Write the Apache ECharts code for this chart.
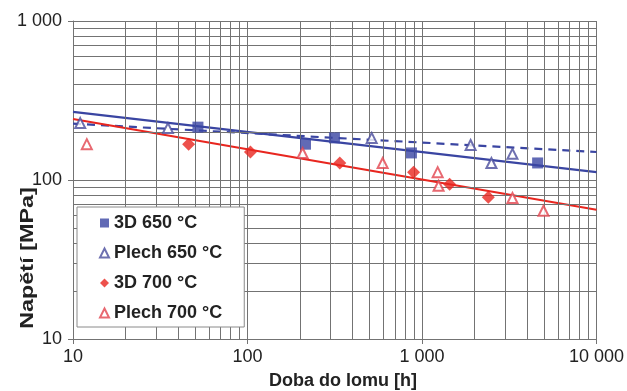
<!DOCTYPE html>
<html>
<head>
<meta charset="utf-8">
<script src="https://cdn.jsdelivr.net/npm/echarts@6/dist/echarts.min.js"></script>
<style>
html,body{margin:0;padding:0;background:#fff;}
#chart{width:627px;height:391px;}
</style>
</head>
<body>
<div id="chart"></div>
<script>
// Data (time to rupture [h], stress [MPa])
const hours3D650 = [52, 215, 315, 870, 4600];
const stress3D650 = [215, 168, 184, 148, 128];

const hoursPlech650 = [11, 35, 515, 1900, 2500, 3300];
const stressPlech650 = [228, 212, 184, 166, 128, 146];

const hours3D700 = [46, 104, 338, 895, 1440, 2400];
const stress3D700 = [168, 150, 128, 112, 94, 78];

const hoursPlech700 = [12, 207, 595, 1230, 1245, 3300, 4970];
const stressPlech700 = [168, 148, 128, 112, 92, 77, 64];

// Trend lines (endpoints at x = 10 and x = 10 000)
const trendX = [10, 10000];
const trend3D650 = [268, 112];
const trendPlech650 = [226, 150];
const trend700 = [242, 65];

// Axis ticks
const xMinorGrid = [20,30,40,50,60,70,80,90,200,300,400,500,600,700,800,900,2000,3000,4000,5000,6000,7000,8000,9000];
const yMinorGrid = [20,30,40,50,60,70,80,90,200,300,400,500,600,700,800,900];

const FONT = "'Liberation Sans', Arial, sans-serif";
const BLUE = '#3a45a2';
const BLUE_TRI = '#4a4c9c';
const RED = '#e8261f';
const RED_TRI = '#e2434d';
const GRID = '#737373';

function zip(xs, ys){ return xs.map((x,i)=>[x, ys[i]]); }
function fmt(v){ return String(v).replace(/\B(?=(\d{3})+(?!\d))/g, ' '); }

const chart = echarts.init(document.getElementById('chart'), null, {renderer:'canvas'});
chart.setOption({
  animation: false,
  backgroundColor: '#fff',
  grid: {left: 73, top: 21, width: 524, height: 318, containLabel: false},
  xAxis: {
    type: 'log', logBase: 10, min: 10, max: 10000,
    axisLine: {show: true, lineStyle: {color: GRID, width: 1}},
    axisTick: {show: true, inside: false, length: 5, lineStyle: {color: GRID}},
    axisLabel: {margin: 9, color: '#222', fontSize: 18, fontFamily: FONT, formatter: fmt},
    splitLine: {show: true, lineStyle: {color: GRID, width: 1}},
    minorTick: {show: false}, minorSplitLine: {show: false}
  },
  yAxis: {
    type: 'log', logBase: 10, min: 10, max: 1000,
    axisLine: {show: true, lineStyle: {color: GRID, width: 1}},
    axisTick: {show: true, inside: false, length: 5, lineStyle: {color: GRID}},
    axisLabel: {margin: 11, color: '#222', fontSize: 18, fontFamily: FONT, formatter: fmt},
    splitLine: {show: true, lineStyle: {color: GRID, width: 1}},
    minorTick: {show: false}, minorSplitLine: {show: false}
  },
  legend: {
    orient: 'vertical', left: 77, top: 207, z: 20, zlevel: 0,
    data: ['3D 650 °C', 'Plech 650 °C', '3D 700 °C', 'Plech 700 °C'],
    itemWidth: 9, itemHeight: 9, itemGap: 10,
    padding: [6, 22, 4, 22],
    backgroundColor: '#ffffff', borderColor: '#8a8a8a', borderWidth: 1,
    textStyle: {fontSize: 18, fontWeight: 'bold', fontFamily: FONT, color: '#222', lineHeight: 20}
  },
  graphic: [
    {type: 'text', x: 343, y: 381, z: 100,
     style: {text: 'Doba do lomu [h]', font: 'bold 18px ' + FONT, fill: '#222', align: 'center', verticalAlign: 'middle'}},
    {type: 'text', x: 28, y: 258, rotation: Math.PI / 2, scaleX: 1.3, z: 100,
     style: {text: 'Napětí [MPa]', font: 'bold 18px ' + FONT, fill: '#222', align: 'center', verticalAlign: 'middle'}}
  ],
  series: [
    {
      name: 'grid', type: 'line', data: [[10, 10]], showSymbol: false, silent: true, z: 0,
      lineStyle: {opacity: 0},
      markLine: {
        silent: true, symbol: ['none', 'none'], label: {show: false}, animation: false,
        lineStyle: {color: GRID, width: 1, type: 'solid'},
        emphasis: {disabled: true},
        data: xMinorGrid.map(v => ({xAxis: v})).concat(yMinorGrid.map(v => ({yAxis: v})))
      }
    },
    {name: 'trend3D650', type: 'line', data: zip(trendX, trend3D650), showSymbol: false, silent: true, z: 3,
     lineStyle: {color: BLUE, width: 2.2}},
    {name: 'trendPlech650', type: 'line', data: zip(trendX, trendPlech650), showSymbol: false, silent: true, z: 3,
     lineStyle: {color: BLUE, width: 2.2, type: [8, 6]}},
    {name: 'trend700', type: 'line', data: zip(trendX, trend700), showSymbol: false, silent: true, z: 3,
     lineStyle: {color: RED, width: 2.2}},
    {name: '3D 650 °C', type: 'scatter', data: zip(hours3D650, stress3D650), symbol: 'rect', symbolSize: 11, z: 5,
     itemStyle: {color: BLUE}},
    {name: 'Plech 650 °C', type: 'scatter', data: zip(hoursPlech650, stressPlech650), symbol: 'emptyTriangle', symbolSize: 10, z: 5,
     itemStyle: {color: BLUE_TRI, borderColor: BLUE_TRI, borderWidth: 1.5}},
    {name: '3D 700 °C', type: 'scatter', data: zip(hours3D700, stress3D700), symbol: 'diamond', symbolSize: 13, z: 5,
     itemStyle: {color: RED}},
    {name: 'Plech 700 °C', type: 'scatter', data: zip(hoursPlech700, stressPlech700), symbol: 'emptyTriangle', symbolSize: 10, z: 5,
     itemStyle: {color: RED_TRI, borderColor: RED_TRI, borderWidth: 1.5}}
  ]
});
</script>
</body>
</html>
